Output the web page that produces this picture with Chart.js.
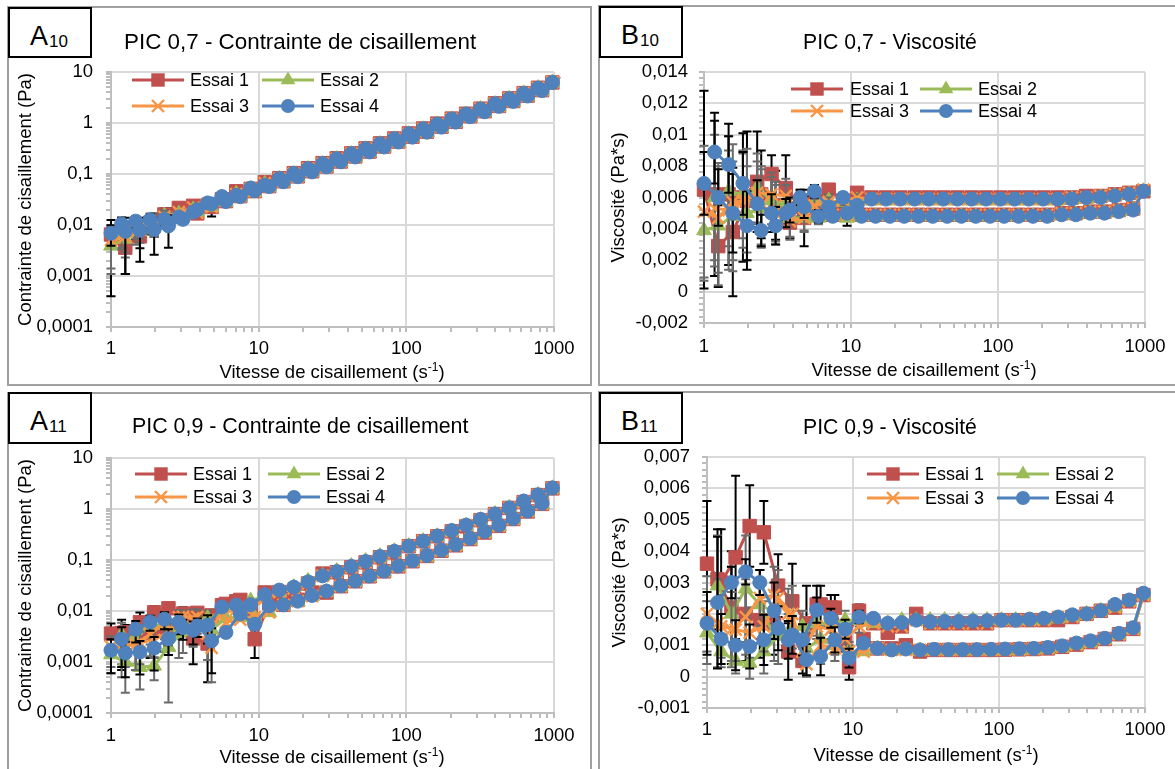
<!DOCTYPE html>
<html>
<head>
<meta charset="utf-8">
<script src="https://cdn.jsdelivr.net/npm/chart.js@4.4.1/dist/chart.umd.min.js"></script>
<style>
body { margin: 0; width: 1175px; height: 769px; position: relative; overflow: hidden; background: #fff;
       font-family: "Liberation Sans", Arial, sans-serif; color: #000; }
.panel { position: absolute; box-sizing: border-box; border: 2px solid #a0a0a0; }
canvas { position: absolute; }
.tag { position: absolute; box-sizing: border-box; width: 84px; border: 2px solid #000; background: #fff; }
.tag .l { position: absolute; left: 20px; top: 14px; font-size: 27px; line-height: 27px; white-space: nowrap; }
.tag .s { font-size: 17px; position: relative; top: 2px; margin-left: 1px; }
.title { position: absolute; white-space: nowrap; line-height: 1; }
.xt { position: absolute; font-size: 18.5px; line-height: 18.5px; transform: translateX(-50%); white-space: nowrap; }
.xt .sup { font-size: 12px; position: relative; top: -7px; }
</style>
</head>
<body>

<div class="panel" style="left:7px;top:6px;width:585px;height:380px"></div>
<div class="panel" style="left:598px;top:5px;width:600px;height:381px"></div>
<div class="panel" style="left:7px;top:392px;width:585px;height:400px"></div>
<div class="panel" style="left:598px;top:391px;width:600px;height:400px"></div>

<canvas id="cA10" width="583" height="378" style="left:8px;top:7px"></canvas>
<canvas id="cB10" width="576" height="379" style="left:599px;top:6px"></canvas>
<canvas id="cA11" width="583" height="376" style="left:8px;top:393px"></canvas>
<canvas id="cB11" width="576" height="377" style="left:599px;top:392px"></canvas>

<div class="tag" style="left:8px;top:7px;height:51px"><span class="l">A<span class="s">10</span></span></div>
<div class="tag" style="left:599px;top:6px;height:52px"><span class="l">B<span class="s">10</span></span></div>
<div class="tag" style="left:8px;top:392px;height:52px"><span class="l">A<span class="s">11</span></span></div>
<div class="tag" style="left:599px;top:392px;height:52px"><span class="l">B<span class="s">11</span></span></div>

<div class="title" style="left:124px;top:31px;font-size:22.4px">PIC 0,7 - Contrainte de cisaillement</div>
<div class="title" style="left:803px;top:31px;font-size:21.2px">PIC 0,7 - Viscosité</div>
<div class="title" style="left:132px;top:416px;font-size:21.4px">PIC 0,9 - Contrainte de cisaillement</div>
<div class="title" style="left:803px;top:416px;font-size:21.2px">PIC 0,9 - Viscosité</div>

<div class="xt" style="left:332px;top:363px">Vitesse de cisaillement (s<span class="sup">-1</span>)</div>
<div class="xt" style="left:924px;top:361px">Vitesse de cisaillement (s<span class="sup">-1</span>)</div>
<div class="xt" style="left:332px;top:748px">Vitesse de cisaillement (s<span class="sup">-1</span>)</div>
<div class="xt" style="left:926px;top:746px">Vitesse de cisaillement (s<span class="sup">-1</span>)</div>

<script>
// shear rates: rising sweep, then falling sweep
const xUp = [1, 1.25, 1.57, 1.96, 2.45, 3.07, 3.84, 4.8, 6, 7.51, 9.4, 11.8, 14.7, 18.4, 23, 28.8, 36, 45.1, 56.4, 70.6, 88.3, 110, 138, 173, 216, 271, 339, 424, 530, 663, 830];
const xDn = [975, 779, 623, 498, 398, 318, 254, 203, 162, 130, 104, 82.9, 66.3, 53, 42.4, 33.8, 27.1, 21.6, 17.3, 13.8, 11, 8.83, 7.05, 5.64, 4.51, 3.6, 2.88, 2.3, 1.84, 1.47, 1.18];

const logXMajor = [1, 10, 100, 1000];
const logYMajor = [0.0001, 0.001, 0.01, 0.1, 1, 10];
const visc07Major = [-0.002, 0, 0.002, 0.004, 0.006, 0.008, 0.01, 0.012, 0.014];
const visc09Major = [-0.001, 0, 0.001, 0.002, 0.003, 0.004, 0.005, 0.006, 0.007];

// PIC 0,7 - contrainte (Pa)
const a10_1_up = [0.0065, 0.0036, 0.0060, 0.0114, 0.0152, 0.0169, 0.0169, 0.0226, 0.0294, 0.0368, 0.0461, 0.0578, 0.072, 0.090, 0.113, 0.141, 0.176, 0.221, 0.276, 0.346, 0.433, 0.539, 0.676, 0.848, 1.06, 1.36, 1.70, 2.16, 2.70, 3.45, 4.40];
const a10_1_dn = [6.24, 4.91, 3.86, 3.04, 2.43, 1.91, 1.52, 1.22, 0.972, 0.78, 0.624, 0.497, 0.398, 0.318, 0.254, 0.203, 0.163, 0.130, 0.104, 0.083, 0.0693, 0.0512, 0.0458, 0.0321, 0.0244, 0.0238, 0.0216, 0.0161, 0.0110, 0.0091, 0.0073];
const a10_2_up = [0.0039, 0.0053, 0.0075, 0.0098, 0.0130, 0.0154, 0.0180, 0.0226, 0.0282, 0.0360, 0.0442, 0.0566, 0.0706, 0.0883, 0.110, 0.138, 0.173, 0.216, 0.271, 0.339, 0.424, 0.528, 0.662, 0.830, 1.04, 1.33, 1.66, 2.12, 2.65, 3.38, 4.32];
const a10_2_dn = [6.24, 4.83, 3.80, 2.99, 2.35, 1.88, 1.47, 1.18, 0.940, 0.754, 0.603, 0.481, 0.385, 0.307, 0.246, 0.196, 0.157, 0.125, 0.100, 0.080, 0.0638, 0.0503, 0.0409, 0.0321, 0.0253, 0.0202, 0.0167, 0.0152, 0.0114, 0.0094, 0.0071];
const a10_3_up = [0.0051, 0.0059, 0.0089, 0.0114, 0.0135, 0.0154, 0.0173, 0.0226, 0.0300, 0.0368, 0.0461, 0.0578, 0.072, 0.090, 0.113, 0.141, 0.176, 0.221, 0.276, 0.346, 0.433, 0.539, 0.676, 0.848, 1.06, 1.36, 1.70, 2.16, 2.70, 3.45, 4.40];
const a10_3_dn = [6.34, 4.91, 3.86, 3.04, 2.39, 1.91, 1.50, 1.20, 0.956, 0.767, 0.614, 0.489, 0.391, 0.313, 0.250, 0.199, 0.160, 0.127, 0.102, 0.0814, 0.066, 0.0512, 0.0402, 0.0310, 0.0262, 0.0220, 0.0179, 0.0145, 0.0107, 0.0076, 0.0063];
const a10_4_up = [0.0069, 0.0075, 0.0079, 0.0082, 0.0096, 0.0129, 0.0200, 0.0259, 0.0288, 0.0360, 0.0470, 0.0566, 0.0706, 0.0883, 0.110, 0.138, 0.173, 0.216, 0.271, 0.339, 0.424, 0.528, 0.662, 0.830, 1.04, 1.33, 1.66, 2.12, 2.65, 3.38, 4.32];
const a10_4_dn = [6.24, 4.83, 3.80, 2.99, 2.39, 1.88, 1.50, 1.20, 0.956, 0.767, 0.614, 0.489, 0.391, 0.313, 0.250, 0.199, 0.160, 0.127, 0.102, 0.0814, 0.0605, 0.0530, 0.0381, 0.0361, 0.0271, 0.0180, 0.0144, 0.0129, 0.0127, 0.0119, 0.0105];
// error bars: eUp = first points of the rising sweep, eDn = last points of the falling sweep
const a10_1_eUp = [0.0061, 0.0025, 0.0025, 0.0055, 0.0060, 0.0050, 0.0030, 0.0080];
const a10_1_eDn = [0.0050, 0.0045, 0.0040, 0.0030];
const a10_2_eUp = [0.0025, 0.0030, 0.0030, 0.0040, 0.0040];
const a10_2_eDn = [0.0040, 0.0040, 0.0040, 0.0035];
const a10_3_eUp = [0.0040, 0.0030, 0.0035, 0.0050];
const a10_3_eDn = [0.0045, 0.0040, 0.0035, 0.0030];
const a10_4_eUp = [0.0030, 0.0064, 0.0060, 0.0056, 0.0060];
const a10_4_eDn = [0.0030, 0.0040, 0.0030, 0.0035];

// PIC 0,7 - viscosité (Pa*s)
const b10_1_up = [0.0065, 0.0029, 0.0038, 0.0058, 0.0062, 0.0055, 0.0044, 0.0047, 0.0049, 0.0049, 0.0049, 0.0049, 0.0049, 0.0049, 0.0049, 0.0049, 0.0049, 0.0049, 0.0049, 0.0049, 0.0049, 0.0049, 0.0049, 0.0049, 0.0049, 0.0050, 0.0050, 0.0051, 0.0051, 0.0052, 0.0053];
const b10_1_dn = [0.0064, 0.0063, 0.0062, 0.0061, 0.0061, 0.0060, 0.0060, 0.0060, 0.0060, 0.0060, 0.0060, 0.0060, 0.0060, 0.0060, 0.0060, 0.0060, 0.0060, 0.0060, 0.0060, 0.0060, 0.0063, 0.0058, 0.0065, 0.0057, 0.0054, 0.0066, 0.0075, 0.0070, 0.0060, 0.0062, 0.0062];
const b10_2_up = [0.0039, 0.0042, 0.0048, 0.0050, 0.0053, 0.0050, 0.0047, 0.0047, 0.0047, 0.0048, 0.0047, 0.0048, 0.0048, 0.0048, 0.0048, 0.0048, 0.0048, 0.0048, 0.0048, 0.0048, 0.0048, 0.0048, 0.0048, 0.0048, 0.0048, 0.0049, 0.0049, 0.0050, 0.0050, 0.0051, 0.0052];
const b10_2_dn = [0.0064, 0.0062, 0.0061, 0.0060, 0.0059, 0.0059, 0.0058, 0.0058, 0.0058, 0.0058, 0.0058, 0.0058, 0.0058, 0.0058, 0.0058, 0.0058, 0.0058, 0.0058, 0.0058, 0.0058, 0.0058, 0.0057, 0.0058, 0.0057, 0.0056, 0.0056, 0.0058, 0.0066, 0.0062, 0.0064, 0.0060];
const b10_3_up = [0.0051, 0.0047, 0.0057, 0.0058, 0.0055, 0.0050, 0.0045, 0.0047, 0.0050, 0.0049, 0.0049, 0.0049, 0.0049, 0.0049, 0.0049, 0.0049, 0.0049, 0.0049, 0.0049, 0.0049, 0.0049, 0.0049, 0.0049, 0.0049, 0.0049, 0.0050, 0.0050, 0.0051, 0.0051, 0.0052, 0.0053];
const b10_3_dn = [0.0065, 0.0063, 0.0062, 0.0061, 0.0060, 0.0060, 0.0059, 0.0059, 0.0059, 0.0059, 0.0059, 0.0059, 0.0059, 0.0059, 0.0059, 0.0059, 0.0059, 0.0059, 0.0059, 0.0059, 0.0060, 0.0058, 0.0057, 0.0055, 0.0058, 0.0061, 0.0062, 0.0063, 0.0058, 0.0052, 0.0053];
const b10_4_up = [0.0069, 0.0060, 0.0050, 0.0042, 0.0039, 0.0042, 0.0052, 0.0054, 0.0048, 0.0048, 0.0050, 0.0048, 0.0048, 0.0048, 0.0048, 0.0048, 0.0048, 0.0048, 0.0048, 0.0048, 0.0048, 0.0048, 0.0048, 0.0048, 0.0048, 0.0049, 0.0049, 0.0050, 0.0050, 0.0051, 0.0052];
const b10_4_dn = [0.0064, 0.0062, 0.0061, 0.0060, 0.0060, 0.0059, 0.0059, 0.0059, 0.0059, 0.0059, 0.0059, 0.0059, 0.0059, 0.0059, 0.0059, 0.0059, 0.0059, 0.0059, 0.0059, 0.0059, 0.0055, 0.0060, 0.0054, 0.0064, 0.0060, 0.0050, 0.0050, 0.0056, 0.0069, 0.0081, 0.0089];
const b10_1_eUp = [0.0063, 0.0026, 0.0041, 0.0044, 0.0028, 0.0022, 0.0010, 0.0018, 0.0004, 0.0004, 0.0007];
const b10_1_eDn = [0.0002, 0.0003, 0.0003, 0.0005, 0.0009, 0.0021, 0.0012, 0.0032, 0.0041, 0.0045, 0.0052];
const b10_2_eUp = [0.0032, 0.0038, 0.0035, 0.0030, 0.0025, 0.0020, 0.0012, 0.0008, 0.0004, 0.0003, 0.0002];
const b10_2_eDn = [0.0002, 0.0003, 0.0004, 0.0005, 0.0008, 0.0012, 0.0015, 0.0022, 0.0028, 0.0035, 0.0040];
const b10_3_eUp = [0.0042, 0.0035, 0.0037, 0.0033, 0.0025, 0.0018, 0.0012, 0.0009, 0.0005, 0.0003, 0.0002];
const b10_3_eDn = [0.0002, 0.0003, 0.0003, 0.0004, 0.0007, 0.0011, 0.0014, 0.0020, 0.0030, 0.0038, 0.0037];
const b10_4_eUp = [0.0020, 0.0018, 0.0025, 0.0022, 0.0010, 0.0012, 0.0008, 0.0007, 0.0004, 0.0003, 0.0002];
const b10_4_eDn = [0.0002, 0.0003, 0.0003, 0.0004, 0.0005, 0.0009, 0.0012, 0.0015, 0.0020, 0.0018, 0.0020];

// PIC 0,9 - contrainte (Pa)
const a11_1_up = [0.0036, 0.0038, 0.0060, 0.0094, 0.0113, 0.0089, 0.0092, 0.0082, 0.0138, 0.0165, 0.0028, 0.0142, 0.0132, 0.0166, 0.023, 0.023, 0.0306, 0.0383, 0.0479, 0.060, 0.075, 0.0946, 0.120, 0.152, 0.194, 0.257, 0.346, 0.466, 0.636, 0.895, 1.26];
const a11_1_dn = [2.54, 1.87, 1.37, 1.05, 0.796, 0.604, 0.457, 0.365, 0.292, 0.234, 0.187, 0.141, 0.113, 0.090, 0.072, 0.0575, 0.0542, 0.0346, 0.0242, 0.0235, 0.0231, 0.0097, 0.0155, 0.0130, 0.0023, 0.0029, 0.0049, 0.0041, 0.0037, 0.0032, 0.0037];
const a11_2_up = [0.0014, 0.0010, 0.00079, 0.00084, 0.00196, 0.0040, 0.0058, 0.0043, 0.0072, 0.0075, 0.0075, 0.0094, 0.0132, 0.0153, 0.0196, 0.0239, 0.0299, 0.0374, 0.0468, 0.0586, 0.0733, 0.0913, 0.115, 0.147, 0.190, 0.252, 0.339, 0.458, 0.625, 0.882, 1.245];
const a11_2_dn = [2.54, 1.87, 1.37, 1.05, 0.796, 0.604, 0.470, 0.365, 0.292, 0.234, 0.187, 0.149, 0.119, 0.0954, 0.0763, 0.0608, 0.0488, 0.0389, 0.0294, 0.0235, 0.0198, 0.0159, 0.0120, 0.0096, 0.0072, 0.0050, 0.0037, 0.0053, 0.0052, 0.0029, 0.0034];
const a11_3_up = [0.0020, 0.0020, 0.0024, 0.0027, 0.0039, 0.0077, 0.0077, 0.0019, 0.0060, 0.0068, 0.0075, 0.0094, 0.0132, 0.0156, 0.0196, 0.0245, 0.0306, 0.0383, 0.0479, 0.060, 0.075, 0.0946, 0.120, 0.152, 0.194, 0.257, 0.346, 0.466, 0.636, 0.895, 1.26];
const a11_3_dn = [2.54, 1.87, 1.37, 1.05, 0.796, 0.604, 0.483, 0.365, 0.292, 0.234, 0.187, 0.141, 0.113, 0.090, 0.072, 0.0575, 0.0488, 0.0346, 0.0277, 0.0235, 0.0176, 0.0106, 0.0106, 0.0090, 0.0036, 0.0072, 0.0075, 0.0058, 0.0035, 0.0022, 0.0020];
const a11_4_up = [0.0017, 0.0015, 0.00157, 0.00188, 0.00287, 0.00473, 0.0051, 0.0026, 0.0038, 0.0088, 0.0055, 0.0126, 0.0132, 0.0156, 0.0202, 0.0245, 0.0313, 0.0388, 0.0485, 0.0607, 0.0768, 0.0968, 0.123, 0.156, 0.201, 0.266, 0.363, 0.483, 0.647, 0.915, 1.29];
const a11_4_dn = [2.59, 1.90, 1.43, 1.05, 0.796, 0.626, 0.483, 0.378, 0.296, 0.234, 0.187, 0.148, 0.117, 0.0933, 0.0746, 0.0592, 0.0488, 0.0372, 0.0294, 0.0257, 0.0209, 0.0133, 0.0131, 0.0120, 0.0053, 0.0042, 0.0060, 0.0069, 0.0061, 0.0044, 0.0028];
const a11_1_eUp = [0.0021, 0.0015, 0.0033, 0.0030, 0.0025, 0.0030, 0.0020, 0.0015, 0.0015, 0.0012, 0.0016];
const a11_1_eDn = [0.0019, 0.0020, 0.0020, 0.0025, 0.0025, 0.0025, 0.0030];
const a11_2_eUp = [0.0008, 0.00075, 0.0005, 0.0004, 0.0018, 0.0025, 0.0022, 0.0020];
const a11_2_eDn = [0.0030, 0.0030, 0.0025, 0.0030, 0.0030, 0.0020, 0.0025];
const a11_3_eUp = [0.0012, 0.0012, 0.0015, 0.0015, 0.0018, 0.0025, 0.0030, 0.0015];
const a11_3_eDn = [0.0025, 0.0035, 0.0030, 0.0030, 0.0022, 0.0015, 0.0015];
const a11_4_eUp = [0.0011, 0.0010, 0.0010, 0.0012, 0.0015, 0.0020, 0.0020, 0.0020];
const a11_4_eDn = [0.0030, 0.0020, 0.0025, 0.0025, 0.0020, 0.0020, 0.0020];

// PIC 0,9 - viscosité (Pa*s)
const b11_1_up = [0.0036, 0.0030, 0.0038, 0.0048, 0.0046, 0.0029, 0.0024, 0.0017, 0.0023, 0.0022, 0.0003, 0.0012, 0.0009, 0.0009, 0.0010, 0.0008, 0.00085, 0.00085, 0.00085, 0.00085, 0.00085, 0.00086, 0.00087, 0.00088, 0.0009, 0.00095, 0.00102, 0.0011, 0.0012, 0.00135, 0.00152];
const b11_1_dn = [0.0026, 0.0024, 0.0022, 0.0021, 0.0020, 0.0019, 0.0018, 0.0018, 0.0018, 0.0018, 0.0018, 0.0017, 0.0017, 0.0017, 0.0017, 0.0017, 0.0020, 0.0016, 0.0014, 0.0017, 0.0021, 0.0011, 0.0022, 0.0023, 0.0005, 0.0008, 0.0017, 0.0018, 0.0020, 0.0022, 0.0031];
const b11_2_up = [0.0014, 0.0008, 0.0005, 0.00043, 0.0008, 0.0013, 0.0015, 0.0009, 0.0012, 0.0010, 0.0008, 0.0008, 0.0009, 0.00083, 0.00085, 0.00083, 0.00083, 0.00083, 0.00083, 0.00083, 0.00083, 0.00083, 0.00083, 0.00085, 0.00088, 0.00093, 0.0010, 0.00108, 0.00118, 0.00133, 0.0015];
const b11_2_dn = [0.0026, 0.0024, 0.0022, 0.0021, 0.0020, 0.0019, 0.00185, 0.0018, 0.0018, 0.0018, 0.0018, 0.0018, 0.0018, 0.0018, 0.0018, 0.0018, 0.0018, 0.0018, 0.0017, 0.0017, 0.0018, 0.0018, 0.0017, 0.0017, 0.0016, 0.0014, 0.0013, 0.0023, 0.0028, 0.0020, 0.0029];
const b11_3_up = [0.0020, 0.0016, 0.0015, 0.0014, 0.0016, 0.0025, 0.0020, 0.0004, 0.0010, 0.0009, 0.0008, 0.0008, 0.0009, 0.00085, 0.00085, 0.00085, 0.00085, 0.00085, 0.00085, 0.00085, 0.00085, 0.00086, 0.00087, 0.00088, 0.0009, 0.00095, 0.00102, 0.0011, 0.0012, 0.00135, 0.00152];
const b11_3_dn = [0.0026, 0.0024, 0.0022, 0.0021, 0.0020, 0.0019, 0.0019, 0.0018, 0.0018, 0.0018, 0.0018, 0.0017, 0.0017, 0.0017, 0.0017, 0.0017, 0.0018, 0.0016, 0.0016, 0.0017, 0.0016, 0.0012, 0.0015, 0.0016, 0.0008, 0.0020, 0.0026, 0.0025, 0.0019, 0.0015, 0.0017];
const b11_4_up = [0.0017, 0.0012, 0.0010, 0.00096, 0.00117, 0.00154, 0.00133, 0.00054, 0.00064, 0.00117, 0.00059, 0.00107, 0.0009, 0.00085, 0.00088, 0.00085, 0.00087, 0.00086, 0.00086, 0.00086, 0.00087, 0.00088, 0.00089, 0.0009, 0.00093, 0.00098, 0.00107, 0.00114, 0.00122, 0.00138, 0.00156];
const b11_4_dn = [0.00266, 0.00244, 0.0023, 0.0021, 0.0020, 0.00197, 0.0019, 0.00186, 0.00183, 0.0018, 0.0018, 0.00178, 0.00177, 0.00176, 0.00176, 0.00175, 0.0018, 0.00172, 0.0017, 0.00186, 0.0019, 0.00151, 0.00186, 0.00212, 0.00117, 0.00117, 0.0021, 0.0030, 0.00334, 0.0030, 0.00236];
const b11_1_eUp = [0.0020, 0.0017, 0.0026, 0.0013, 0.0010, 0.0010, 0.0012, 0.0012, 0.0006, 0.0004, 0.0004];
const b11_1_eDn = [0.0002, 0.0003, 0.0004, 0.0006, 0.0004, 0.0009, 0.0010, 0.0012, 0.0015, 0.0018, 0.0016];
const b11_2_eUp = [0.0010, 0.0005, 0.0004, 0.0005, 0.0007, 0.0009, 0.0006, 0.0005, 0.0004, 0.0003, 0.0002];
const b11_2_eDn = [0.0002, 0.0003, 0.0003, 0.0004, 0.0005, 0.0006, 0.0008, 0.0011, 0.0017, 0.0015, 0.0016];
const b11_3_eUp = [0.0012, 0.0010, 0.0010, 0.0008, 0.0008, 0.0009, 0.0009, 0.0004, 0.0006, 0.0004, 0.0003];
const b11_3_eDn = [0.0002, 0.0003, 0.0003, 0.0004, 0.0004, 0.0008, 0.0009, 0.0009, 0.0012, 0.0012, 0.0014];
const b11_4_eUp = [0.0010, 0.0008, 0.0008, 0.0007, 0.0008, 0.0007, 0.0006, 0.0005, 0.0006, 0.0004, 0.0003];
const b11_4_eDn = [0.0002, 0.0003, 0.0003, 0.0004, 0.0005, 0.0006, 0.0009, 0.0004, 0.0004, 0.0005, 0.0021];

const essaiStyles = [
    { label: 'Essai 1', color: '#C0504D', point: 'rect', radius: 9.5, err: '#000000' },
    { label: 'Essai 2', color: '#9BBB59', point: 'triangle', radius: 8.5, err: '#6b6b6b' },
    { label: 'Essai 3', color: '#F79646', point: 'crossRot', radius: 8.5, err: '#6b6b6b' },
    { label: 'Essai 4', color: '#4F81BD', point: 'circle', radius: 7, err: '#000000' }
];

Chart.defaults.font.family = '"Liberation Sans", Arial, sans-serif';
Chart.defaults.color = '#000';

function logTicks(majors) {
    const t = [];
    majors.forEach((m, i) => {
        t.push(m);
        if (i < majors.length - 1) {
            for (let k = 2; k <= 9; k++) t.push(+(m * k).toPrecision(6));
        }
    });
    return t;
}

function linTicks(majors) {
    const t = [];
    majors.forEach((m, i) => {
        t.push(m);
        if (i < majors.length - 1) {
            const step = (majors[i + 1] - m) / 5;
            for (let k = 1; k < 5; k++) t.push(m + step * k);
        }
    });
    return t;
}

function isMajor(v, majors) {
    return majors.some(m => Math.abs(v - m) < Math.abs(m) * 1e-6 + 1e-9);
}

function fmt(v) {
    return String(parseFloat(v.toFixed(5))).replace('.', ',');
}

function drawMarker(ctx, st, x, y) {
    const r = st.radius;
    ctx.fillStyle = st.color;
    ctx.strokeStyle = st.color;
    ctx.beginPath();
    if (st.point === 'rect') {
        const h = r * Math.SQRT1_2;
        ctx.rect(x - h, y - h, 2 * h, 2 * h);
        ctx.fill();
    } else if (st.point === 'circle') {
        ctx.arc(x, y, r, 0, Math.PI * 2);
        ctx.fill();
    } else if (st.point === 'triangle') {
        ctx.moveTo(x, y - r);
        ctx.lineTo(x + 0.866 * r, y + 0.5 * r);
        ctx.lineTo(x - 0.866 * r, y + 0.5 * r);
        ctx.closePath();
        ctx.fill();
    } else {
        const d = r * Math.SQRT1_2;
        ctx.lineWidth = 2.4;
        ctx.moveTo(x - d, y - d); ctx.lineTo(x + d, y + d);
        ctx.moveTo(x + d, y - d); ctx.lineTo(x - d, y + d);
        ctx.stroke();
    }
}

// vertical error bars, drawn just before each series so later series cover them
const errorBars = {
    id: 'errorBars',
    beforeDatasetDraw(chart, args) {
        const ds = chart.data.datasets[args.index];
        if (!ds.errUp) return;
        const ctx = chart.ctx;
        const a = chart.chartArea;
        const xs = chart.scales.x, ys = chart.scales.y;
        const n = ds.data.length;
        ctx.save();
        ctx.beginPath();
        ctx.rect(a.left - 6, a.top - 1, a.right - a.left + 12, a.bottom - a.top + 2);
        ctx.clip();
        ctx.strokeStyle = ds.errColor;
        ctx.lineWidth = 2;
        const bar = (i, e) => {
            const pt = ds.data[i];
            const px = xs.getPixelForValue(pt.x);
            const top = ys.getPixelForValue(pt.y + e);
            const lo = pt.y - e;
            const cap = !(ys.type === 'logarithmic' && lo <= 0);
            const bot = cap ? ys.getPixelForValue(lo) : a.bottom + 2;
            ctx.beginPath();
            ctx.moveTo(px, top); ctx.lineTo(px, bot);
            ctx.moveTo(px - 4.5, top); ctx.lineTo(px + 4.5, top);
            if (cap) { ctx.moveTo(px - 4.5, bot); ctx.lineTo(px + 4.5, bot); }
            ctx.stroke();
        };
        ds.errUp.forEach((e, k) => bar(k, e));
        ds.errDn.forEach((e, k) => bar(n - ds.errDn.length + k, e));
        ctx.restore();
    }
};

// Excel-like legend: line segment with marker, two columns
const essaiLegend = {
    id: 'essaiLegend',
    afterDatasetsDraw(chart, args, opts) {
        const ctx = chart.ctx;
        ctx.save();
        essaiStyles.forEach((st, i) => {
            const y = opts.rows[Math.floor(i / 2)];
            const lx = opts.cols[i % 2];
            ctx.strokeStyle = st.color;
            ctx.lineWidth = 3;
            ctx.beginPath();
            ctx.moveTo(lx, y);
            ctx.lineTo(lx + 52, y);
            ctx.stroke();
            drawMarker(ctx, st, lx + 26, y);
            ctx.fillStyle = '#000';
            ctx.font = '18px "Liberation Sans", Arial, sans-serif';
            ctx.textBaseline = 'middle';
            ctx.fillText(st.label, opts.texts[i % 2], y + 1);
        });
        ctx.restore();
    }
};

function axisGrid(majors) {
    return {
        color: c => (c.tick && isMajor(c.tick.value, majors)) ? '#d9d9d9' : 'rgba(0,0,0,0)',
        lineWidth: 2,
        drawTicks: true,
        tickLength: 5,
        tickColor: '#a6a6a6',
        tickWidth: 1.5
    };
}

function drawPanel(p) {
    const datasets = p.series.map((s, i) => {
        const st = essaiStyles[i];
        const pts = s.up.map((v, k) => ({ x: xUp[k], y: v }))
            .concat(s.dn.map((v, k) => ({ x: xDn[k], y: v })));
        return {
            label: st.label,
            data: pts,
            showLine: true,
            borderColor: st.color,
            backgroundColor: st.color,
            borderWidth: 3,
            pointStyle: st.point,
            pointRadius: st.radius,
            pointBackgroundColor: st.color,
            pointBorderColor: st.color,
            pointBorderWidth: st.point === 'crossRot' ? 2.4 : 1,
            order: 4 - i,
            clip: 12,
            errUp: s.eUp,
            errDn: s.eDn,
            errColor: st.err
        };
    });

    const yTickList = p.yType === 'logarithmic' ? logTicks(p.yMajor) : linTicks(p.yMajor);

    new Chart(document.getElementById(p.id), {
        type: 'scatter',
        data: { datasets: datasets },
        options: {
            responsive: false,
            animation: false,
            events: [],
            layout: { padding: { left: 0, right: p.padRight, top: p.padTop, bottom: 0 } },
            plugins: {
                legend: { display: false },
                tooltip: { enabled: false },
                essaiLegend: p.legend
            },
            scales: {
                x: {
                    type: 'logarithmic',
                    min: 1,
                    max: 1000,
                    afterBuildTicks: s => { s.ticks = logTicks(logXMajor).map(v => ({ value: v })); },
                    afterFit: s => { s.height = p.axisH; },
                    ticks: {
                        autoSkip: false,
                        maxRotation: 0,
                        padding: p.xTickPad,
                        font: { size: 18.5 },
                        callback: v => isMajor(v, logXMajor) ? String(v) : ''
                    },
                    grid: axisGrid(logXMajor),
                    border: { color: '#bfbfbf', width: 2 }
                },
                y: {
                    type: p.yType,
                    min: p.yMin,
                    max: p.yMax,
                    afterBuildTicks: s => { s.ticks = yTickList.map(v => ({ value: v })); },
                    afterFit: s => { s.width = p.axisW; },
                    ticks: {
                        autoSkip: false,
                        padding: p.yTickPad,
                        font: { size: 18.5 },
                        callback: v => isMajor(v, p.yMajor) ? fmt(v) : ''
                    },
                    title: {
                        display: true,
                        text: p.yTitle,
                        font: { size: 18.5 },
                        padding: { top: p.yTitlePad, bottom: 0 }
                    },
                    grid: axisGrid(p.yMajor),
                    border: { color: '#bfbfbf', width: 2 }
                }
            }
        },
        plugins: [errorBars, essaiLegend]
    });
}

drawPanel({
    id: 'cA10', yType: 'logarithmic', yMin: 0.0001, yMax: 10, yMajor: logYMajor,
    yTitle: 'Contrainte de cisaillement (Pa)',
    axisW: 103, axisH: 58, padRight: 37, padTop: 65, yTickPad: 13, xTickPad: 6, yTitlePad: 7,
    legend: { rows: [73, 99], cols: [124, 254], texts: [182, 312] },
    series: [
        { up: a10_1_up, dn: a10_1_dn, eUp: a10_1_eUp, eDn: a10_1_eDn },
        { up: a10_2_up, dn: a10_2_dn, eUp: a10_2_eUp, eDn: a10_2_eDn },
        { up: a10_3_up, dn: a10_3_dn, eUp: a10_3_eUp, eDn: a10_3_eDn },
        { up: a10_4_up, dn: a10_4_dn, eUp: a10_4_eUp, eDn: a10_4_eDn }
    ]
});

drawPanel({
    id: 'cB10', yType: 'linear', yMin: -0.002, yMax: 0.014, yMajor: visc07Major,
    yTitle: 'Viscosité (Pa*s)',
    axisW: 105, axisH: 62, padRight: 30, padTop: 66, yTickPad: 11, xTickPad: 8, yTitlePad: 9,
    legend: { rows: [83, 105], cols: [192, 321], texts: [251, 379] },
    series: [
        { up: b10_1_up, dn: b10_1_dn, eUp: b10_1_eUp, eDn: b10_1_eDn },
        { up: b10_2_up, dn: b10_2_dn, eUp: b10_2_eUp, eDn: b10_2_eDn },
        { up: b10_3_up, dn: b10_3_dn, eUp: b10_3_eUp, eDn: b10_3_eDn },
        { up: b10_4_up, dn: b10_4_dn, eUp: b10_4_eUp, eDn: b10_4_eDn }
    ]
});

drawPanel({
    id: 'cA11', yType: 'logarithmic', yMin: 0.0001, yMax: 10, yMajor: logYMajor,
    yTitle: 'Contrainte de cisaillement (Pa)',
    axisW: 103, axisH: 56, padRight: 37, padTop: 65, yTickPad: 13, xTickPad: 7, yTitlePad: 7,
    legend: { rows: [81, 104], cols: [127, 260], texts: [185, 318] },
    series: [
        { up: a11_1_up, dn: a11_1_dn, eUp: a11_1_eUp, eDn: a11_1_eDn },
        { up: a11_2_up, dn: a11_2_dn, eUp: a11_2_eUp, eDn: a11_2_eDn },
        { up: a11_3_up, dn: a11_3_dn, eUp: a11_3_eUp, eDn: a11_3_eDn },
        { up: a11_4_up, dn: a11_4_dn, eUp: a11_4_eUp, eDn: a11_4_eDn }
    ]
});

drawPanel({
    id: 'cB11', yType: 'linear', yMin: -0.001, yMax: 0.007, yMajor: visc09Major,
    yTitle: 'Viscosité (Pa*s)',
    axisW: 108, axisH: 61, padRight: 30, padTop: 65, yTickPad: 12, xTickPad: 6, yTitlePad: 10,
    legend: { rows: [82, 106], cols: [268, 398], texts: [326, 456] },
    series: [
        { up: b11_1_up, dn: b11_1_dn, eUp: b11_1_eUp, eDn: b11_1_eDn },
        { up: b11_2_up, dn: b11_2_dn, eUp: b11_2_eUp, eDn: b11_2_eDn },
        { up: b11_3_up, dn: b11_3_dn, eUp: b11_3_eUp, eDn: b11_3_eDn },
        { up: b11_4_up, dn: b11_4_dn, eUp: b11_4_eUp, eDn: b11_4_eDn }
    ]
});
</script>
</body>
</html>
